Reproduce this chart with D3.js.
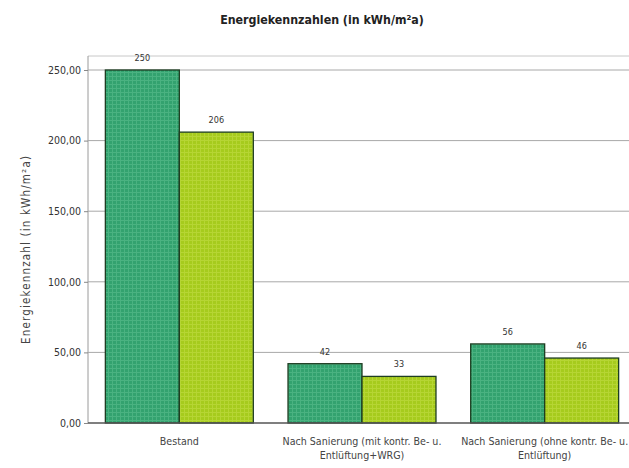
<!DOCTYPE html>
<html><head><meta charset="utf-8">
<script src="https://cdn.jsdelivr.net/npm/d3@7"></script>
<style>body{margin:0;background:#fff}svg{display:block}</style>
</head><body>
<svg id="c" width="629" height="468"></svg>
<script>
const categories = ["Bestand", "Nach Sanierung (mit kontr. Be- u.|Entlüftung+WRG)", "Nach Sanierung (ohne kontr. Be- u.|Entlüftung)"];
const series1 = [250, 42, 56];
const series2 = [206, 33, 46];
const yTicks = [0, 50, 100, 150, 200, 250];
const title = "Energiekennzahlen (in kWh/m²a)";
const yTitle = "Energiekennzahl (in kWh/m²a)";

(function(){
const svg = d3.select("#c");
const pL = 88, pR = 636, pT = 56, pB = 423;
const FONT = "DejaVu Sans Condensed, sans-serif";
const x = d3.scaleBand().domain(categories).range([pL, pR]).paddingInner(0.19).paddingOuter(0.095);
const xs = d3.scaleBand().domain([0,1]).range([0, x.bandwidth()]);
const y = d3.scaleLinear().domain([0, 250]).range([pB, 70]);

const defs = svg.append("defs");
function pat(id, base, line) {
  const p = defs.append("pattern").attr("id", id).attr("width", 4).attr("height", 4).attr("patternUnits", "userSpaceOnUse");
  p.append("rect").attr("width", 4).attr("height", 4).attr("fill", base);
  p.append("path").attr("d", "M0,0.5H4M0.5,0V4").attr("stroke", line).attr("stroke-width", 1).attr("opacity", 0.55);
}
pat("pA", "#33a26f", "#5cc090");
pat("pB", "#a6cb1d", "#c2dd46");

svg.append("line").attr("x1", pL).attr("x2", pR).attr("y1", pT).attr("y2", pT).attr("stroke", "#c8c8c8");
svg.append("line").attr("x1", pL).attr("x2", pL).attr("y1", pT).attr("y2", pB).attr("stroke", "#9a9a9a");

svg.append("g").selectAll("line").data(yTicks.filter(d => d > 0)).join("line")
  .attr("x1", pL).attr("x2", pR).attr("y1", d => y(d)).attr("y2", d => y(d))
  .attr("stroke", "#a8a8a8").attr("stroke-width", 1);

const ya = svg.append("g").attr("transform", `translate(${pL},0)`)
  .call(d3.axisLeft(y).tickValues(yTicks).tickSize(4).tickFormat(d => d3.format(".2f")(d).replace(".", ",")));
ya.select(".domain").remove();
ya.selectAll("line").attr("stroke", "#888");
ya.selectAll("text").attr("font-family", FONT).attr("font-size", 10.5).attr("fill", "#333");

const g = svg.append("g");
categories.forEach((c, i) => {
  [series1[i], series2[i]].forEach((v, j) => {
    const bx = x(c) + xs(j);
    g.append("rect").attr("x", bx).attr("y", y(v)).attr("width", xs.bandwidth()).attr("height", y(0) - y(v))
      .attr("fill", j === 0 ? "url(#pA)" : "url(#pB)").attr("stroke", "#1e3d22").attr("stroke-width", 1.3);
    g.append("text").attr("x", bx + xs.bandwidth() / 2).attr("y", y(v) - 9).attr("text-anchor", "middle")
      .attr("font-family", FONT).attr("font-size", 9).attr("fill", "#333").text(v);
  });
});

svg.append("line").attr("x1", pL).attr("x2", pR).attr("y1", y(0)).attr("y2", y(0)).attr("stroke", "#555").attr("stroke-width", 1.5);

categories.forEach(c => {
  const lines = c.split("|");
  const t = svg.append("text").attr("text-anchor", "middle")
    .attr("font-family", FONT).attr("font-size", 10.6).attr("fill", "#444");
  lines.forEach((l, k) => t.append("tspan").attr("x", x(c) + x.bandwidth() / 2).attr("y", 445 + k * 14).text(l));
});

svg.append("text").attr("x", 322).attr("y", 24).attr("text-anchor", "middle")
  .attr("font-family", FONT).attr("font-weight", "bold").attr("font-size", 12.3).attr("fill", "#222").text(title);
svg.append("text").attr("transform", `translate(30,250) rotate(-90)`).attr("text-anchor", "middle")
  .attr("font-family", FONT).attr("font-size", 11.5).attr("fill", "#444")
  .attr("textLength", 188).attr("lengthAdjust", "spacing").text(yTitle);
})();
</script>
</body></html>
